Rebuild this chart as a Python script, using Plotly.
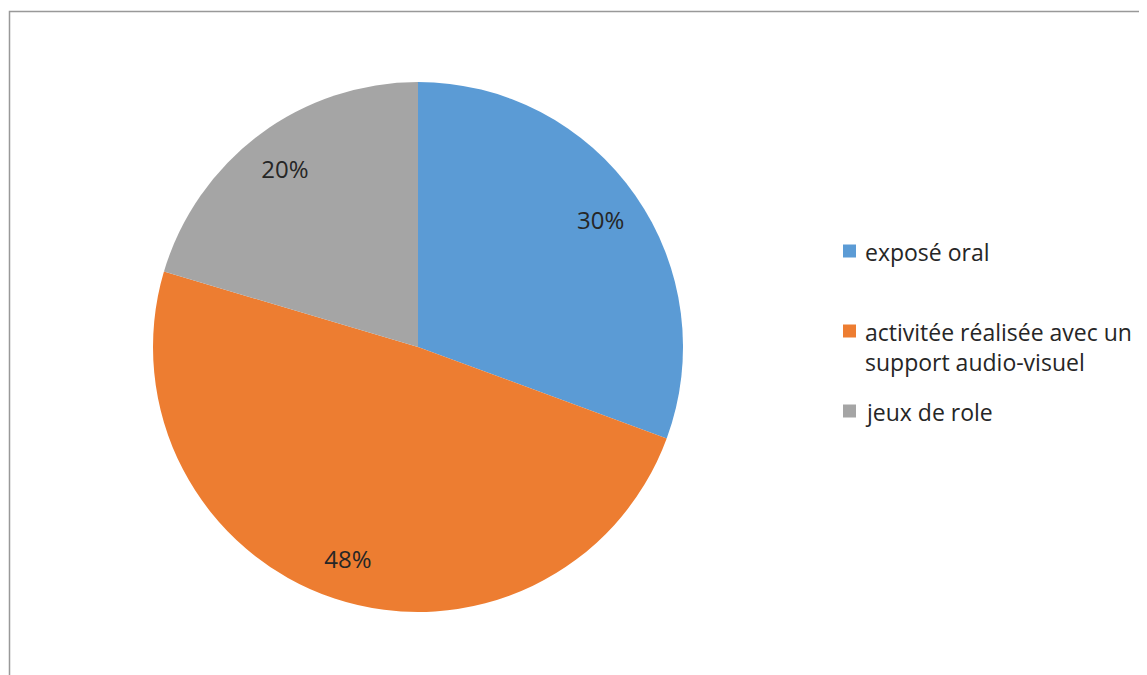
import plotly.graph_objects as go

categories = ["exposé oral", "activitée réalisée avec un support audio-visuel", "jeux de role"]
values = [30, 48, 20]
colors = ["#5B9BD5", "#ED7D31", "#A5A5A5"]
# legend text as wrapped in the reference
legend_text = ["exposé oral", "activitée réalisée avec un<br>support audio-visuel", "jeux de role"]

# page body has an 8px margin, so figure coords = reference coords - 8
W, H = 1139, 667
cx, cy, R = 410, 339, 265
dom_x = [(cx - R) / W, (cx + R) / W]
dom_y = [(H - cy - R) / H, (H - cy + R) / H]

FONT = "Open Sans, sans-serif"
TXT = "#262626"

fig = go.Figure()
fig.add_trace(go.Pie(
    labels=categories, values=values, sort=False, direction="clockwise", rotation=0,
    marker=dict(colors=colors, line=dict(width=0)),
    textinfo="none", hoverinfo="label+percent", showlegend=False,
    domain=dict(x=dom_x, y=dom_y),
))
# transparent ring on top: places the value labels near the rim (like Excel)
fig.add_trace(go.Pie(
    labels=categories, values=values, sort=False, direction="clockwise", rotation=0,
    hole=0.68, showlegend=False,
    marker=dict(colors=["rgba(0,0,0,0)"] * len(values), line=dict(width=0)),
    texttemplate="%{value}%", textposition="inside", insidetextorientation="horizontal",
    insidetextfont=dict(family=FONT, size=24, color=TXT),
    hoverinfo="skip",
    domain=dict(x=dom_x, y=dom_y),
))

# legend (drawn to match Excel's legend layout)
leg_sq_x0, leg_sq_size, leg_text_x = 835, 13, 855
leg_y = [243, 323, 403]
shapes = [dict(type="rect", xref="paper", yref="paper",
               x0=1.5 / W, y0=-0.05, x1=1.05, y1=(H - 3.5) / H,
               line=dict(color="#999999", width=1.5), fillcolor="rgba(0,0,0,0)", layer="below")]
annotations = []
for txt, col, yy in zip(legend_text, colors, leg_y):
    shapes.append(dict(type="rect", xref="paper", yref="paper",
                       x0=leg_sq_x0 / W, x1=(leg_sq_x0 + leg_sq_size) / W,
                       y0=(H - yy - leg_sq_size / 2) / H, y1=(H - yy + leg_sq_size / 2) / H,
                       line=dict(width=0), fillcolor=col))
    annotations.append(dict(xref="paper", yref="paper", x=leg_text_x / W, y=(H - yy + 17) / H,
                            xanchor="left", yanchor="top", align="left", showarrow=False,
                            text=txt, font=dict(family=FONT, size=23, color=TXT)))

fig.update_layout(
    width=W, height=H,
    margin=dict(l=0, r=0, t=0, b=0),
    paper_bgcolor="white", plot_bgcolor="white",
    shapes=shapes, annotations=annotations,
)

fig.write_html("out.html")
